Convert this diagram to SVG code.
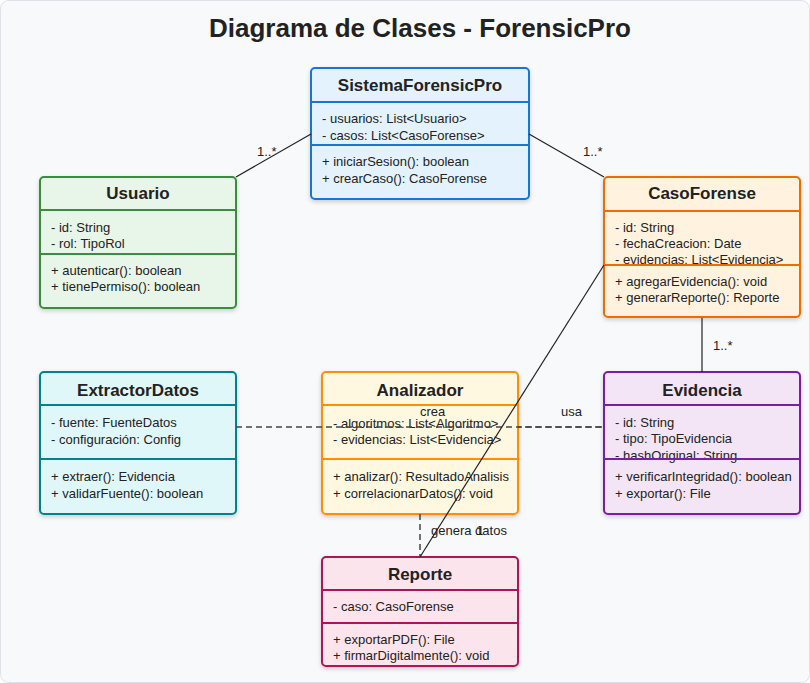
<svg xmlns="http://www.w3.org/2000/svg" width="810" height="683" viewBox="0 0 810 683">
<defs>
<filter id="sh" x="-10%" y="-10%" width="120%" height="130%">
<feDropShadow dx="0" dy="2" stdDeviation="2" flood-color="#000" flood-opacity="0.18"/>
</filter>
<style>
text{font-family:"Liberation Sans",Arial,sans-serif;fill:#222;}
.ttl{font-size:26px;font-weight:bold;text-anchor:middle;}
.cn{font-size:17px;font-weight:bold;text-anchor:middle;}
.m{font-size:13px;}
.lb{font-size:13px;}
.box{stroke-width:2;filter:url(#sh);}
.sep{stroke-width:2;}
.ln{stroke:#222;stroke-width:1.2;fill:none;}
.dl{stroke:#444;stroke-width:1.5;stroke-dasharray:6,4;fill:none;}
.blue{fill:#e3f2fd;stroke:#1976d2;}
.green{fill:#e8f5e9;stroke:#388e3c;}
.orange{fill:#fff3e0;stroke:#ef6c00;}
.amber{fill:#fff8e1;stroke:#ff8f00;}
.purple{fill:#f3e5f5;stroke:#7b1fa2;}
.teal{fill:#e0f7fa;stroke:#00838f;}
.pink{fill:#fce4ec;stroke:#ad1457;}
</style>
</defs>
<rect x="0.5" y="0.5" width="809" height="682" rx="8" fill="#f8f9fa" stroke="#dee2e6"/>
<text class="ttl" x="420" y="37">Diagrama de Clases - ForensicPro</text>

<g id="SistemaForensicPro">
<rect class="box blue" x="311" y="68" width="218" height="131" rx="4"/>
<text class="cn" x="420" y="91">SistemaForensicPro</text>
<text class="m" x="322" y="123">- usuarios: List&lt;Usuario&gt;</text>
<text class="m" x="322" y="139.5">- casos: List&lt;CasoForense&gt;</text>
<text class="m" x="322" y="166">+ iniciarSesion(): boolean</text>
<text class="m" x="322" y="182.5">+ crearCaso(): CasoForense</text>
<line class="sep" stroke="#1976d2" x1="311" y1="102" x2="529" y2="102"/>
<line class="sep" stroke="#1976d2" x1="311" y1="145" x2="529" y2="145"/>
</g>

<g id="Usuario">
<rect class="box green" x="40" y="177" width="196" height="131" rx="4"/>
<text class="cn" x="138" y="199">Usuario</text>
<text class="m" x="51" y="232">- id: String</text>
<text class="m" x="51" y="248">- rol: TipoRol</text>
<text class="m" x="51" y="274.5">+ autenticar(): boolean</text>
<text class="m" x="51" y="291">+ tienePermiso(): boolean</text>
<line class="sep" stroke="#388e3c" x1="40" y1="210" x2="236" y2="210"/>
<line class="sep" stroke="#388e3c" x1="40" y1="254" x2="236" y2="254"/>
</g>

<g id="CasoForense">
<rect class="box orange" x="604" y="177" width="196" height="140" rx="4"/>
<text class="cn" x="702" y="199">CasoForense</text>
<text class="m" x="615" y="232">- id: String</text>
<text class="m" x="615" y="248">- fechaCreacion: Date</text>
<text class="m" x="615" y="264">- evidencias: List&lt;Evidencia&gt;</text>
<text class="m" x="615" y="285.5">+ agregarEvidencia(): void</text>
<text class="m" x="615" y="301.5">+ generarReporte(): Reporte</text>
<line class="sep" stroke="#ef6c00" x1="604" y1="211" x2="800" y2="211"/>
<line class="sep" stroke="#ef6c00" x1="604" y1="265" x2="800" y2="265"/>
</g>

<g id="ExtractorDatos">
<rect class="box teal" x="40" y="372" width="196" height="142" rx="4"/>
<text class="cn" x="138" y="395.5">ExtractorDatos</text>
<text class="m" x="51" y="427">- fuente: FuenteDatos</text>
<text class="m" x="51" y="443.5">- configuración: Config</text>
<text class="m" x="51" y="481">+ extraer(): Evidencia</text>
<text class="m" x="51" y="498">+ validarFuente(): boolean</text>
<line class="sep" stroke="#00838f" x1="40" y1="405" x2="236" y2="405"/>
<line class="sep" stroke="#00838f" x1="40" y1="459" x2="236" y2="459"/>
</g>

<g id="Analizador">
<rect class="box amber" x="322" y="372" width="196" height="142" rx="4"/>
<text class="cn" x="420" y="395.5">Analizador</text>
<text class="m" x="333" y="428">- algoritmos: List&lt;Algoritmo&gt;</text>
<text class="m" x="333" y="443.5">- evidencias: List&lt;Evidencia&gt;</text>
<text class="m" x="333" y="481">+ analizar(): ResultadoAnalisis</text>
<text class="m" x="333" y="498">+ correlacionarDatos(): void</text>
<line class="sep" stroke="#ff8f00" x1="322" y1="405" x2="518" y2="405"/>
<line class="sep" stroke="#ff8f00" x1="322" y1="459" x2="518" y2="459"/>
</g>

<g id="Evidencia">
<rect class="box purple" x="604" y="372" width="196" height="142" rx="4"/>
<text class="cn" x="702" y="395.5">Evidencia</text>
<text class="m" x="615" y="427">- id: String</text>
<text class="m" x="615" y="443">- tipo: TipoEvidencia</text>
<text class="m" x="615" y="459.5">- hashOriginal: String</text>
<text class="m" x="615" y="481">+ verificarIntegridad(): boolean</text>
<text class="m" x="615" y="498">+ exportar(): File</text>
<line class="sep" stroke="#7b1fa2" x1="604" y1="405" x2="800" y2="405"/>
<line class="sep" stroke="#7b1fa2" x1="604" y1="459" x2="800" y2="459"/>
</g>

<g id="Reporte">
<rect class="box pink" x="322" y="557" width="196" height="109" rx="4"/>
<text class="cn" x="420" y="579.5">Reporte</text>
<text class="m" x="333" y="611">- caso: CasoForense</text>
<text class="m" x="333" y="643.5">+ exportarPDF(): File</text>
<text class="m" x="333" y="659.5">+ firmarDigitalmente(): void</text>
<line class="sep" stroke="#ad1457" x1="322" y1="590" x2="518" y2="590"/>
<line class="sep" stroke="#ad1457" x1="322" y1="623" x2="518" y2="623"/>
</g>

<g id="connectors">
<line class="ln" x1="311" y1="134" x2="236" y2="177"/>
<text class="lb" x="257" y="156">1..*</text>
<line class="ln" x1="529" y1="134" x2="604" y2="177"/>
<text class="lb" x="583" y="156">1..*</text>
<line class="ln" x1="702" y1="318" x2="702" y2="372"/>
<text class="lb" x="713" y="350">1..*</text>
<line class="dl" x1="236" y1="427" x2="604" y2="427"/>
<text class="lb" x="420" y="416">crea</text>
<line class="dl" x1="518" y1="427" x2="604" y2="427" stroke-dashoffset="3"/>
<text class="lb" x="561" y="416">usa</text>
<line class="dl" x1="420" y1="514" x2="420" y2="557"/>
<text class="lb" x="431" y="535">genera datos</text>
<line class="ln" x1="604" y1="265" x2="420" y2="557"/>
<text class="lb" x="476" y="535">1</text>
</g>
</svg>
